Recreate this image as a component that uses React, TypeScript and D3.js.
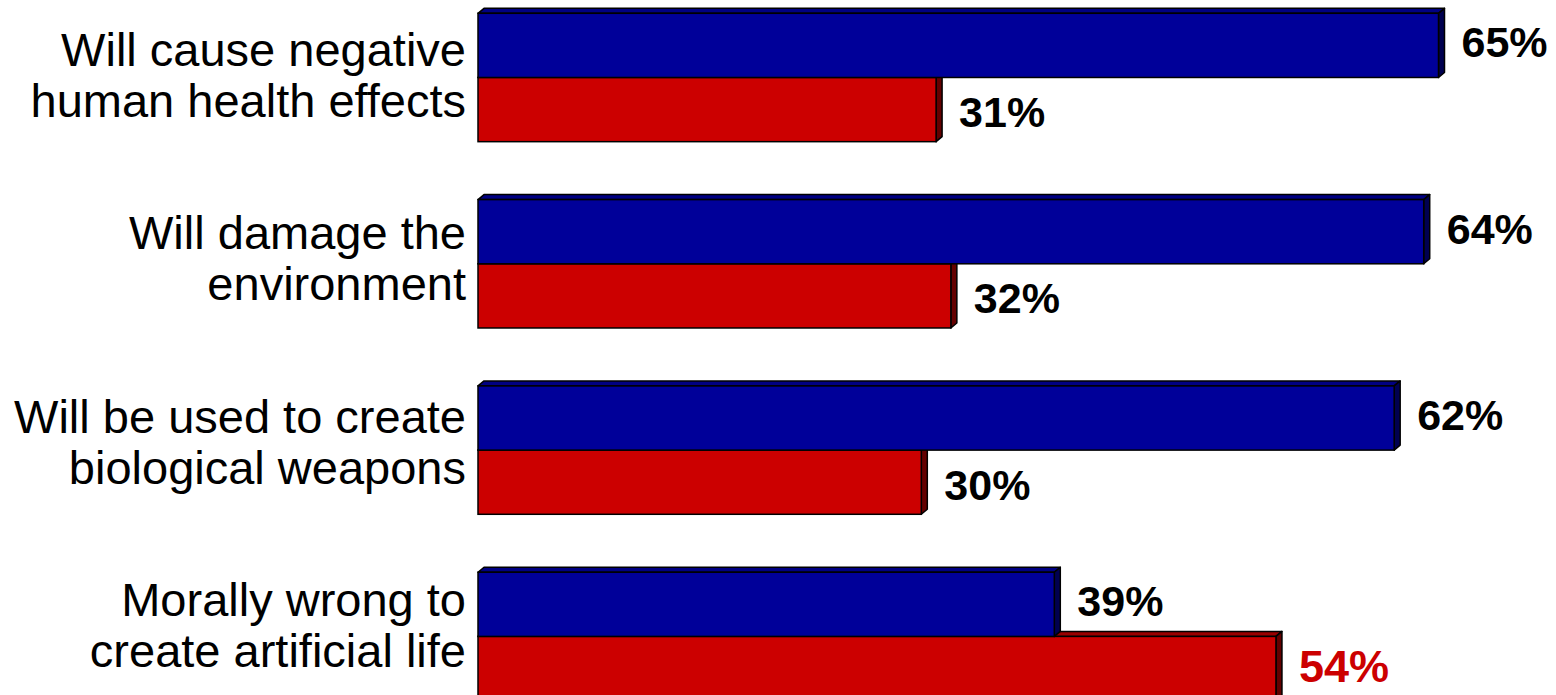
import React from "react";
import * as d3 from "d3";

const categories = [
  "Will cause negative|human health effects",
  "Will damage the|environment",
  "Will be used to create|biological weapons",
  "Morally wrong to|create artificial life",
];
const seriesNames = ["blue", "red"];
const blueValues = [65, 64, 62, 39];
const redValues = [31, 32, 30, 54];

const W = 1556;
const H = 695;
const DX = 6;
const DY = 5;

const colors: Record<string, { front: string; top: string; side: string }> = {
  blue: { front: "#000099", top: "#000082", side: "#000050" },
  red: { front: "#CC0000", top: "#990000", side: "#640000" },
};

export default function App() {
  const x = d3.scaleLinear().domain([0, 65]).range([478, 1438.5]);
  const y = d3
    .scaleBand<string>()
    .domain(categories)
    .range([13.3, 700.6])
    .paddingInner(0.311)
    .paddingOuter(0)
    .align(0);
  const sub = d3.scaleBand<string>().domain(seriesNames).range([0, y.bandwidth()]).padding(0);
  const labelY = d3.scalePoint<string>().domain(categories).range([65, 615]);

  const bar = (cat: string, s: string, v: number, key: string) => {
    const x0 = x(0);
    const x1 = x(v);
    const yt = (y(cat) as number) + (sub(s) as number);
    const yb = yt + sub.bandwidth();
    const c = colors[s];
    const top = `M${x0},${yt} L${x0 + DX},${yt - DY} L${x1 + DX},${yt - DY} L${x1},${yt} Z`;
    const side = `M${x1},${yt} L${x1 + DX},${yt - DY} L${x1 + DX},${yb - DY} L${x1},${yb} Z`;
    return (
      <g key={key}>
        <path d={top} fill={c.top} stroke="#000" strokeWidth={1.5} strokeLinejoin="round" />
        <path d={side} fill={c.side} stroke="#000" strokeWidth={1.5} strokeLinejoin="round" />
        <rect x={x0} y={yt} width={x1 - x0} height={yb - yt} fill={c.front} stroke="#000" strokeWidth={1.5} />
      </g>
    );
  };

  const valueLabel = (cat: string, s: string, v: number, highlight: boolean, key: string) => {
    const yt = (y(cat) as number) + (sub(s) as number);
    const cy = yt + sub.bandwidth() / 2 + (s === "blue" ? -3.5 : highlight ? -3 : 2);
    const fs = highlight ? 45 : 43;
    return (
      <text
        key={key}
        x={x(v) + DX + 17}
        y={cy + fs * 0.716 / 2}
        fontFamily="'Liberation Sans', Arial, sans-serif"
        fontWeight="bold"
        fontSize={fs}
        fill={highlight ? "#CC0000" : "#000"}
      >
        {v}%
      </text>
    );
  };

  return (
    <svg
      width={W}
      height={H}
      style={{ position: "absolute", left: 0, top: 0, background: "#fff" }}
    >
      {categories.map((cat, i) => (
        <g key={cat}>
          {bar(cat, "red", redValues[i], "r" + i)}
          {bar(cat, "blue", blueValues[i], "b" + i)}
        </g>
      ))}
      {categories.map((cat, i) => (
        <g key={"v" + cat}>
          {valueLabel(cat, "blue", blueValues[i], false, "vb" + i)}
          {valueLabel(cat, "red", redValues[i], redValues[i] > blueValues[i], "vr" + i)}
        </g>
      ))}
      {categories.map((cat) => {
        const lines = cat.split("|");
        return (
          <text
            key={"l" + cat}
            textAnchor="end"
            fontFamily="'Liberation Sans', Arial, sans-serif"
            fontSize={47}
            fill="#000"
          >
            {lines.map((ln, j) => (
              <tspan key={j} x={466} y={(labelY(cat) as number) + 1 + j * 51}>
                {ln}
              </tspan>
            ))}
          </text>
        );
      })}
    </svg>
  );
}
